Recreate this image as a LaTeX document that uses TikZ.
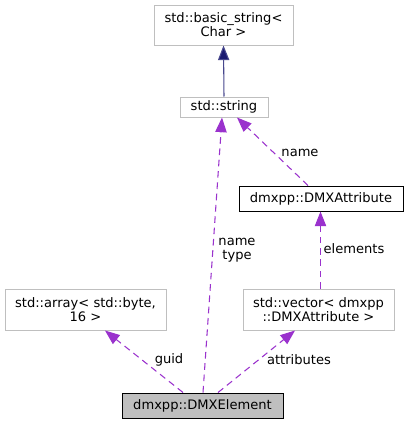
\documentclass[tikz,border=0pt]{standalone}
\usepackage{fontspec}
\setmainfont{DejaVu Sans}
\usetikzlibrary{arrows.meta,calc}
\definecolor{boxgray}{HTML}{BFBFBF}
\definecolor{depcol}{HTML}{9A32CD}
\definecolor{inhcol}{HTML}{191970}
\begin{document}
\begin{tikzpicture}[x=0.75pt,y=-0.75pt,
  every node/.style={font=\fontsize{9.8}{10.5}\selectfont, inner sep=0pt, align=center},
  cls/.style={draw=boxgray, line width=0.75pt, rectangle, fill=white},
  clsk/.style={draw=black, line width=0.75pt, rectangle, fill=white},
  main/.style={draw=black, line width=0.75pt, rectangle, fill=boxgray},
  dep/.style={draw=depcol, line width=0.8pt, dash pattern=on 5pt off 3.5pt,
    -{Triangle[length=11pt,width=8.5pt,fill=depcol]}},
  inh/.style={draw=inhcol!80!white, line width=0.8pt,
    -{Triangle[length=11pt,width=8.5pt,fill=inhcol]}},
  lbl/.style={text=black}]
\useasboundingbox (0,0) rectangle (408,425);
\node[cls, minimum width=104.25pt, minimum height=30pt] (bs) at (223.5,25) {std::basic\_string<\\Char >};
\node[cls, minimum width=66pt, minimum height=15pt] (str) at (224,107) {std::string};
\node[clsk, minimum width=123pt, minimum height=18.75pt] (attr) at (321,198.5) {dmxpp::DMXAttribute};
\node[cls, minimum width=120.75pt, minimum height=30.75pt] (arr) at (85.5,309.5) {std::array< std::byte,\\16 >};
\node[cls, minimum width=113.25pt, minimum height=30.75pt] (vec) at (318.5,309.5) {std::vector< dmxpp\\::DMXAttribute >};
\node[main, minimum width=120.75pt, minimum height=18.75pt] (elem) at (202.5,405.5) {dmxpp::DMXElement};

\draw[inh] (str.north) -- (bs.south);
\draw[dep] ($(elem.north)+(0.5,0)$) -- ($(str.south)+(-2,0)$);
\draw[dep] ($(attr.north)+(-13,0)$) -- ($(str.south)+(13,0)$);
\draw[dep] ($(vec.north)+(2,0)$) -- ($(attr.south)+(-0.5,0)$);
\draw[dep] ($(elem.north)+(-19.5,0)$) -- ($(arr.south)+(19.5,0)$);
\draw[dep] ($(elem.north)+(15.5,0)$) -- ($(vec.south)+(-23.5,0)$);

\node[lbl] (lnt) at (237,250) {name\\type};
\node[lbl] (ln) at (300,153) {name};
\node[lbl] (le) at (354,249) {elements};
\node[lbl] (lg) at (169,360) {guid};
\node[lbl] (la) at (299,360) {attributes};
\end{tikzpicture}
\end{document}
